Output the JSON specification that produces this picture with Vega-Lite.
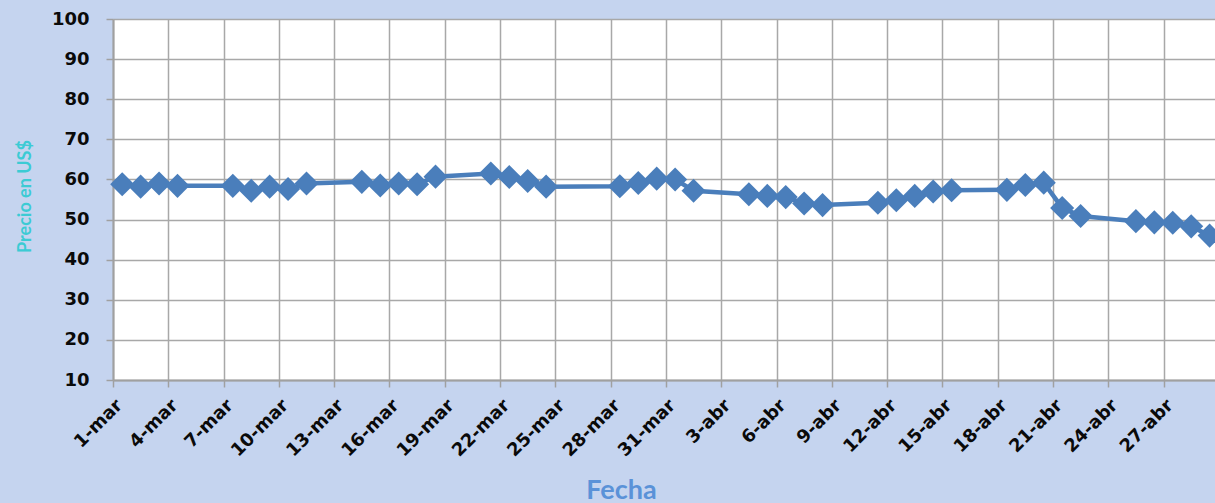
{
  "$schema": "https://vega.github.io/schema/vega-lite/v6.json",
  "width": 1102,
  "height": 361,
  "autosize": {"type": "none"},
  "padding": {"left": 113, "top": 19, "right": 0, "bottom": 123},
  "background": "#c5d4ef",
  "config": {"view": {"stroke": null, "fill": "white"}},
  "data": {
    "values": [
      {"fecha": "2016-03-01", "precio": 58.8},
      {"fecha": "2016-03-02", "precio": 58.2},
      {"fecha": "2016-03-03", "precio": 59.0},
      {"fecha": "2016-03-04", "precio": 58.4},
      {"fecha": "2016-03-07", "precio": 58.4},
      {"fecha": "2016-03-08", "precio": 57.2},
      {"fecha": "2016-03-09", "precio": 58.2},
      {"fecha": "2016-03-10", "precio": 57.6},
      {"fecha": "2016-03-11", "precio": 59.0},
      {"fecha": "2016-03-14", "precio": 59.4},
      {"fecha": "2016-03-15", "precio": 58.5},
      {"fecha": "2016-03-16", "precio": 59.0},
      {"fecha": "2016-03-17", "precio": 58.8},
      {"fecha": "2016-03-18", "precio": 60.7},
      {"fecha": "2016-03-21", "precio": 61.5},
      {"fecha": "2016-03-22", "precio": 60.6},
      {"fecha": "2016-03-23", "precio": 59.6},
      {"fecha": "2016-03-24", "precio": 58.2},
      {"fecha": "2016-03-28", "precio": 58.3},
      {"fecha": "2016-03-29", "precio": 59.1},
      {"fecha": "2016-03-30", "precio": 60.2},
      {"fecha": "2016-03-31", "precio": 60.0},
      {"fecha": "2016-04-01", "precio": 57.2},
      {"fecha": "2016-04-04", "precio": 56.3},
      {"fecha": "2016-04-05", "precio": 55.9},
      {"fecha": "2016-04-06", "precio": 55.6},
      {"fecha": "2016-04-07", "precio": 54.0},
      {"fecha": "2016-04-08", "precio": 53.6},
      {"fecha": "2016-04-11", "precio": 54.2},
      {"fecha": "2016-04-12", "precio": 54.8},
      {"fecha": "2016-04-13", "precio": 55.9},
      {"fecha": "2016-04-14", "precio": 57.0},
      {"fecha": "2016-04-15", "precio": 57.3},
      {"fecha": "2016-04-18", "precio": 57.4},
      {"fecha": "2016-04-19", "precio": 58.6},
      {"fecha": "2016-04-20", "precio": 59.2},
      {"fecha": "2016-04-21", "precio": 52.9},
      {"fecha": "2016-04-22", "precio": 50.9},
      {"fecha": "2016-04-25", "precio": 49.6},
      {"fecha": "2016-04-26", "precio": 49.3},
      {"fecha": "2016-04-27", "precio": 49.2},
      {"fecha": "2016-04-28", "precio": 48.3},
      {"fecha": "2016-04-29", "precio": 46.0}
    ]
  },
  "encoding": {
    "x": {
      "field": "fecha",
      "type": "temporal",
      "timeUnit": "utcyearmonthdate",
      "bandPosition": 0.5,
      "scale": {
        "type": "utc",
        "domain": [
          {"year": 2016, "month": 3, "date": 1, "utc": true},
          {"year": 2016, "month": 4, "date": 29, "hours": 19, "utc": true}
        ]
      },
      "axis": {
        "values": [
          {"year": 2016, "month": 3, "date": 1, "utc": true},
          {"year": 2016, "month": 3, "date": 4, "utc": true},
          {"year": 2016, "month": 3, "date": 7, "utc": true},
          {"year": 2016, "month": 3, "date": 10, "utc": true},
          {"year": 2016, "month": 3, "date": 13, "utc": true},
          {"year": 2016, "month": 3, "date": 16, "utc": true},
          {"year": 2016, "month": 3, "date": 19, "utc": true},
          {"year": 2016, "month": 3, "date": 22, "utc": true},
          {"year": 2016, "month": 3, "date": 25, "utc": true},
          {"year": 2016, "month": 3, "date": 28, "utc": true},
          {"year": 2016, "month": 3, "date": 31, "utc": true},
          {"year": 2016, "month": 4, "date": 3, "utc": true},
          {"year": 2016, "month": 4, "date": 6, "utc": true},
          {"year": 2016, "month": 4, "date": 9, "utc": true},
          {"year": 2016, "month": 4, "date": 12, "utc": true},
          {"year": 2016, "month": 4, "date": 15, "utc": true},
          {"year": 2016, "month": 4, "date": 18, "utc": true},
          {"year": 2016, "month": 4, "date": 21, "utc": true},
          {"year": 2016, "month": 4, "date": 24, "utc": true},
          {"year": 2016, "month": 4, "date": 27, "utc": true}
        ],
        "labelExpr": "utcdate(datum.value) + '-' + (utcmonth(datum.value) == 2 ? 'mar' : 'abr')",
        "labelAngle": -45,
        "labelAlign": "right",
        "labelBaseline": "top",
        "labelFont": "DejaVu Sans",
        "labelFontWeight": "bold",
        "labelFontSize": 18,
        "labelColor": "#0a0a0a",
        "labelPadding": 9,
        "labelOverlap": false,
        "labelBound": false,
        "labelFlush": false,
        "tickSize": 7,
        "tickColor": "#a0a0a0",
        "tickWidth": 1.5,
        "grid": true,
        "gridColor": "#a8a8a8",
        "gridWidth": 1.5,
        "domainColor": "#a0a0a0",
        "domainWidth": 2,
        "title": "Fecha",
        "titleFont": "Lato",
        "titleFontSize": 27,
        "titleFontWeight": "bold",
        "titleColor": "#5a92d8",
        "titleX": 508,
        "titleY": 118,
        "titleBaseline": "alphabetic"
      }
    },
    "y": {
      "field": "precio",
      "type": "quantitative",
      "scale": {"domain": [10, 100], "nice": false, "zero": false},
      "axis": {
        "values": [10, 20, 30, 40, 50, 60, 70, 80, 90, 100],
        "labelFont": "DejaVu Sans",
        "labelFontWeight": "bold",
        "labelFontSize": 18,
        "labelColor": "#0a0a0a",
        "labelPadding": 17,
        "tickSize": 7,
        "tickColor": "#a0a0a0",
        "tickWidth": 1.5,
        "grid": true,
        "gridColor": "#a8a8a8",
        "gridWidth": 1.5,
        "domainColor": "#a0a0a0",
        "domainWidth": 2,
        "title": "Precio en US$",
        "titleFont": "Lato",
        "titleFontSize": 18,
        "titleFontWeight": "bold",
        "titleColor": "#3ccbd4",
        "titleX": -83,
        "titleY": 177,
        "titleBaseline": "alphabetic",
        "titleAlign": "center"
      }
    }
  },
  "layer": [
    {"mark": {"type": "line", "color": "#4a7ebb", "strokeWidth": 4.5}},
    {"mark": {"type": "point", "shape": "diamond", "filled": true, "size": 580, "color": "#4a7ebb", "opacity": 1}}
  ]
}
